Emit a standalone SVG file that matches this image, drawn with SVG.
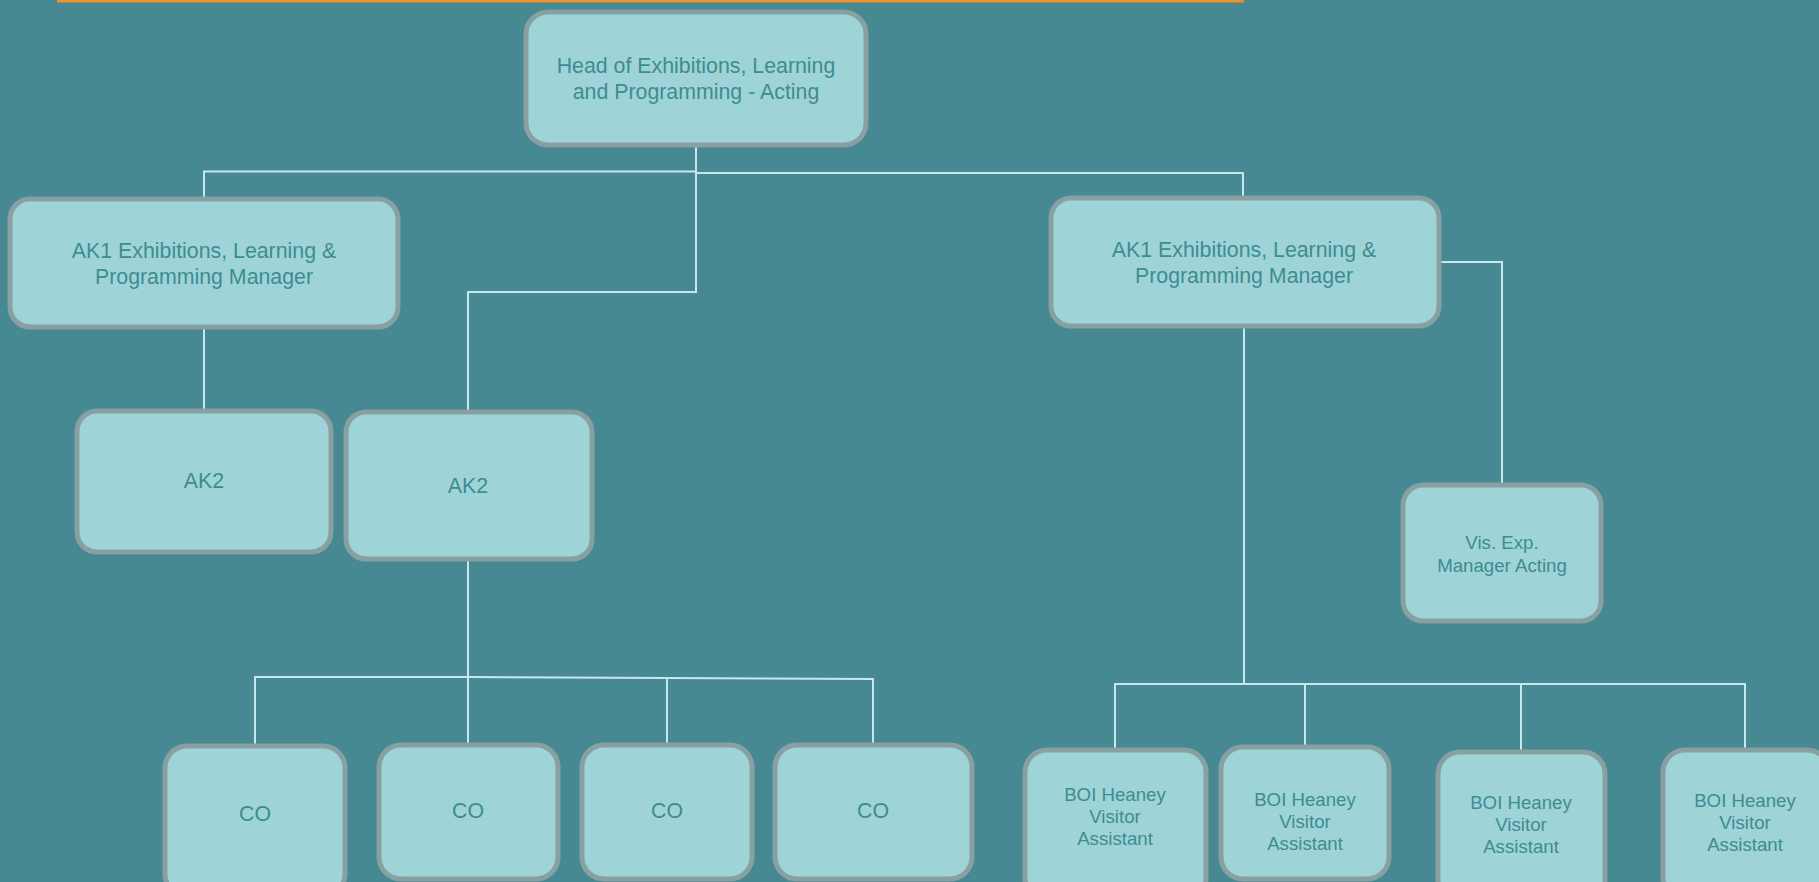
<svg xmlns="http://www.w3.org/2000/svg" width="1819" height="882" viewBox="0 0 1819 882">
<style>
.box{fill:#9ed4d8;stroke:#88a0a2;stroke-width:5}
.t{font-family:"Liberation Sans",Arial,sans-serif;fill:#3e8c91;text-anchor:middle}
.l{font-size:21.33px}
.s{font-size:18.67px}
.c{fill:none;stroke:#c6e8eb;stroke-width:2}
</style>
<rect x="0" y="0" width="1819" height="882" fill="#468993"/>
<rect x="57" y="0" width="1187" height="2.5" fill="#f0902a"/>
<g id="connectors">
<polyline class="c" points="696,145 696,292 468,292 468,410"/>
<polyline class="c" points="204,198 204,171.5 696,171.5"/>
<polyline class="c" points="696,173 1243,173 1243,196"/>
<line class="c" x1="204" y1="328" x2="204" y2="410"/>
<polyline class="c" points="1440,262 1502,262 1502,484"/>
<line class="c" x1="1244" y1="327" x2="1244" y2="684"/>
<polyline class="c" points="1115,748 1115,684 1745,684 1745,748"/>
<line class="c" x1="1305" y1="684" x2="1305" y2="745"/>
<line class="c" x1="1521" y1="684" x2="1521" y2="750"/>
<line class="c" x1="468" y1="560" x2="468" y2="743"/>
<polyline class="c" points="255,744 255,677 468,677 667,678 873,679 873,743"/>
<line class="c" x1="667" y1="678" x2="667" y2="743"/>
</g>
<g id="head">
<rect class="box" x="526" y="12" width="340" height="133" rx="22"/>
<text class="t l" x="696" y="73">Head of Exhibitions, Learning</text>
<text class="t l" x="696" y="99">and Programming - Acting</text>
</g>
<g id="ak1-left">
<rect class="box" x="10" y="199" width="388" height="128" rx="20"/>
<text class="t l" x="204" y="258">AK1 Exhibitions, Learning &amp;</text>
<text class="t l" x="204" y="284">Programming Manager</text>
</g>
<g id="ak1-right">
<rect class="box" x="1051" y="198" width="388" height="128" rx="20"/>
<text class="t l" x="1244" y="257">AK1 Exhibitions, Learning &amp;</text>
<text class="t l" x="1244" y="283">Programming Manager</text>
</g>
<g id="ak2-left">
<rect class="box" x="77" y="411" width="254" height="141" rx="20"/>
<text class="t l" x="204" y="488">AK2</text>
</g>
<g id="ak2-right">
<rect class="box" x="346" y="412" width="246" height="147" rx="20"/>
<text class="t l" x="468" y="493">AK2</text>
</g>
<g id="vis-exp">
<rect class="box" x="1403" y="485" width="198" height="136" rx="20"/>
<text class="t s" x="1502" y="549">Vis. Exp.</text>
<text class="t s" x="1502" y="572">Manager Acting</text>
</g>
<g id="co1">
<rect class="box" x="165" y="746" width="180" height="150" rx="22"/>
<text class="t l" x="255" y="821">CO</text>
</g>
<g id="co2">
<rect class="box" x="379" y="745" width="179" height="134" rx="22"/>
<text class="t l" x="468" y="818">CO</text>
</g>
<g id="co3">
<rect class="box" x="582" y="745" width="170" height="134" rx="22"/>
<text class="t l" x="667" y="818">CO</text>
</g>
<g id="co4">
<rect class="box" x="775" y="745" width="197" height="134" rx="22"/>
<text class="t l" x="873" y="818">CO</text>
</g>
<g id="boi1">
<rect class="box" x="1025" y="750" width="181" height="150" rx="22"/>
<text class="t s" x="1115" y="801">BOI Heaney</text>
<text class="t s" x="1115" y="823">Visitor</text>
<text class="t s" x="1115" y="845">Assistant</text>
</g>
<g id="boi2">
<rect class="box" x="1221" y="747" width="168" height="132" rx="22"/>
<text class="t s" x="1305" y="806">BOI Heaney</text>
<text class="t s" x="1305" y="828">Visitor</text>
<text class="t s" x="1305" y="850">Assistant</text>
</g>
<g id="boi3">
<rect class="box" x="1438" y="752" width="167" height="150" rx="22"/>
<text class="t s" x="1521" y="809">BOI Heaney</text>
<text class="t s" x="1521" y="831">Visitor</text>
<text class="t s" x="1521" y="853">Assistant</text>
</g>
<g id="boi4">
<rect class="box" x="1663" y="750" width="166" height="150" rx="22"/>
<text class="t s" x="1745" y="807">BOI Heaney</text>
<text class="t s" x="1745" y="829">Visitor</text>
<text class="t s" x="1745" y="851">Assistant</text>
</g>
</svg>
